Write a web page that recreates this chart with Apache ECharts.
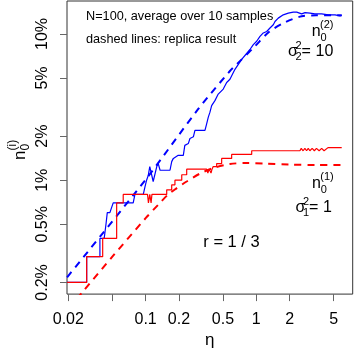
<!DOCTYPE html>
<html>
<head>
<meta charset="utf-8">
<script src="https://cdn.jsdelivr.net/npm/echarts@6/dist/echarts.min.js"></script>
<style>
  html, body { margin: 0; padding: 0; background: #fff; }
  #chart { width: 354px; height: 354px; }
</style>
</head>
<body>
<div id="chart"></div>
<script>
// axis ranges and ticks (eta, n0 in %)
const etaRange = [0.01946, 7.44];
const pctRange = [0.1665, 16.8];
const etaTicks = [0.02, 0.05, 0.1, 0.2, 0.5, 1, 2, 5];
const etaLabelTicks = [0.02, 0.1, 0.2, 0.5, 1, 2, 5];
const pctTicks = [0.2, 0.5, 1, 2, 5, 10];

// sigma2^2 = 10, simulation : [eta, n0 %]
const blueSim = [
  [0.0195, 0.2], [0.0293, 0.2], [0.0293, 0.3], [0.0386, 0.3], [0.0386, 0.4], [0.0422, 0.4],
  [0.0438, 0.5], [0.045, 0.6], [0.0475, 0.6], [0.0509, 0.7], [0.0772, 0.7], [0.080, 0.8],
  [0.0952, 0.8], [0.0986, 0.9], [0.102, 1.0], [0.1056, 1.08], [0.109, 1.24], [0.117, 0.98],
  [0.1216, 0.98], [0.126, 1.24], [0.130, 1.30], [0.135, 1.17], [0.166, 1.17], [0.172, 1.34],
  [0.178, 1.41], [0.197, 1.48], [0.219, 1.48], [0.226, 1.73], [0.243, 1.78], [0.2515, 1.93],
  [0.27, 1.98], [0.279, 2.19], [0.3437, 2.19], [0.356, 2.43], [0.3685, 2.70], [0.3814, 2.92],
  [0.395, 3.24], [0.423, 3.50], [0.438, 3.59], [0.453, 3.88], [0.503, 4.20], [0.54, 4.66],
  [0.578, 4.90], [0.642, 5.73], [0.738, 6.70], [0.877, 7.83], [0.94, 8.46], [1.008, 8.91],
  [1.08, 9.63], [1.157, 10.16], [1.242, 10.4], [1.33, 10.98], [1.425, 11.56], [1.476, 12.17],
  [1.58, 12.83], [1.754, 13.51], [1.947, 13.87], [2.16, 14.1], [2.32, 14.1], [2.57, 13.73],
  [2.76, 14.0], [3.06, 13.87], [3.39, 13.73], [3.9, 13.73], [4.48, 13.51], [5.15, 13.5],
  [5.71, 13.3], [5.92, 13.4]
];
// sigma2^2 = 10, replica
const blueReplica = [
  [0.0195, 0.217], [0.102, 1.03], [0.299, 3.07], [0.578, 5.58], [0.665, 6.2], [0.973, 8.24],
  [1.3, 10.3], [1.82, 12.0], [2.57, 13.2], [3.5, 13.4], [5.92, 13.4]
];
// sigma1^2 = 1, simulation
const redSim = [
  [0.0195, 0.2], [0.0293, 0.2], [0.0293, 0.3], [0.0409, 0.3], [0.0409, 0.4], [0.0547, 0.4],
  [0.0547, 0.7], [0.0627, 0.7], [0.0627, 0.8], [0.104, 0.8], [0.106, 0.7], [0.109, 0.8],
  [0.112, 0.7], [0.114, 0.8], [0.155, 0.8], [0.155, 0.86], [0.172, 0.86], [0.172, 0.93],
  [0.184, 0.93], [0.184, 1.0], [0.212, 1.0], [0.212, 1.09], [0.235, 1.09], [0.235, 1.19],
  [0.356, 1.19], [0.365, 1.12], [0.375, 1.19], [0.39, 1.12], [0.398, 1.19], [0.408, 1.19],
  [0.408, 1.24], [0.4385, 1.24], [0.4385, 1.30], [0.4865, 1.30], [0.4865, 1.41], [0.599, 1.41],
  [0.599, 1.50], [0.909, 1.50], [0.909, 1.59], [2.48, 1.59], [2.55, 1.65], [2.65, 1.59],
  [2.75, 1.65], [2.85, 1.59], [2.95, 1.65], [3.05, 1.59], [3.2, 1.65], [3.35, 1.59],
  [3.5, 1.65], [3.7, 1.59], [3.9, 1.65], [4.1, 1.59], [4.45, 1.67], [5.92, 1.67]
];
// sigma1^2 = 1, replica
const redReplica = [
  [0.02, 0.132], [0.0273, 0.1745], [0.05, 0.30], [0.1, 0.55], [0.13, 0.68], [0.16, 0.80],
  [0.19, 0.88], [0.235, 0.98], [0.31, 1.11], [0.408, 1.21], [0.578, 1.29], [0.8, 1.31],
  [1.2, 1.30], [2, 1.28], [3.5, 1.27], [5.92, 1.27]
];

const lg = Math.log10;
const toLog = pts => pts.map(p => [lg(p[0]), lg(p[1])]);
const findTick = (ticks, v) => ticks.find(t => Math.abs(lg(t) - v) < 1e-6);

const FONT = '"Liberation Sans", Arial, sans-serif';
const BLUE = '#0000ff';
const RED = '#ff0000';

function txt(text, x, y, size, align) {
  return {
    type: 'text', x: x, y: y, silent: true,
    style: {
      text: text, font: size + 'px ' + FONT, fill: '#000',
      textAlign: align || 'left', textVerticalAlign: 'middle'
    }
  };
}

function lineSeries(pts, color, dashed) {
  return {
    type: 'line',
    data: toLog(pts),
    showSymbol: false,
    clip: true,
    smooth: dashed ? 0.3 : false,
    lineStyle: dashed
      ? { color: color, width: 2, type: [7, 6] }
      : { color: color, width: 1.2 },
    itemStyle: { color: color }
  };
}

const chart = echarts.init(document.getElementById('chart'));

chart.setOption({
  animation: false,
  backgroundColor: '#fff',
  grid: {
    left: 67, top: 1, width: 285.7, height: 296,
    show: true, borderColor: '#333', borderWidth: 1
  },
  xAxis: {
    type: 'value',
    min: lg(etaRange[0]),
    max: lg(etaRange[1]),
    name: 'η',
    nameLocation: 'middle',
    nameGap: 30,
    nameTextStyle: { fontFamily: FONT, fontSize: 17, color: '#000' },
    axisLine: { show: false, onZero: false },
    splitLine: { show: false },
    axisTick: { show: true, length: 7, lineStyle: { color: '#666' }, customValues: etaTicks.map(lg) },
    axisLabel: {
      customValues: etaLabelTicks.map(lg),
      margin: 17,
      fontFamily: FONT, fontSize: 16, color: '#000',
      formatter: v => String(findTick(etaLabelTicks, v))
    }
  },
  yAxis: {
    type: 'value',
    min: lg(pctRange[0]),
    max: lg(pctRange[1]),
    axisLine: { show: false, onZero: false },
    splitLine: { show: false },
    axisTick: { show: true, length: 7, lineStyle: { color: '#666' }, customValues: pctTicks.map(lg) },
    axisLabel: {
      customValues: pctTicks.map(lg),
      rotate: 90,
      margin: 16,
      fontFamily: FONT, fontSize: 16, color: '#000',
      formatter: v => findTick(pctTicks, v) + '%'
    }
  },
  graphic: [
    txt('N=100, average over 10 samples', 86, 16, 12.7),
    txt('dashed lines: replica result', 86, 39.5, 12.7),
    // n0^(2), sigma2^2 = 10
    txt('n', 311.7, 31.8, 16), txt('0', 320.5, 38, 11), txt('(2)', 320, 25.2, 11),
    txt('σ', 288, 52, 16), txt('2', 295.5, 45.5, 11), txt('2', 295.5, 57, 11),
    txt('=', 301.5, 52, 16), txt('10', 333.3, 52, 16, 'right'),
    // n0^(1), sigma1^2 = 1
    txt('n', 312, 184, 16), txt('0', 320.8, 190, 11), txt('(1)', 320.3, 176.5, 11),
    txt('σ', 295.5, 207.5, 16), txt('2', 303, 201.5, 11), txt('1', 303, 213, 11),
    txt('=', 309, 207.5, 16), txt('1', 332, 207.5, 16, 'right'),
    txt('r = 1 / 3', 231.5, 242.7, 16.5, 'center'),
    // y axis title n0^(i)
    {
      type: 'group', x: 20, y: 160, rotation: Math.PI / 2,
      children: [txt('n', 0, 0, 17), txt('0', 9.5, 6, 12), txt('(i)', 9.5, -7, 12)]
    }
  ],
  series: [
    lineSeries(blueReplica, BLUE, true),
    lineSeries(blueSim, BLUE, false),
    lineSeries(redReplica, RED, true),
    lineSeries(redSim, RED, false)
  ]
});
</script>
</body>
</html>
